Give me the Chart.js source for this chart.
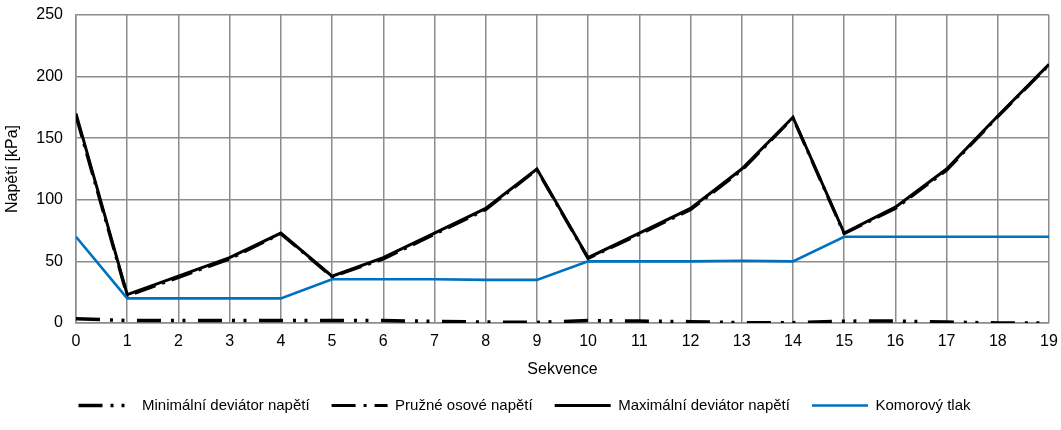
<!DOCTYPE html>
<html>
<head>
<meta charset="utf-8">
<script src="https://cdn.jsdelivr.net/npm/chart.js@4.4.1/dist/chart.umd.min.js"></script>
<style>
  html, body { margin: 0; padding: 0; background: #fff; }
  #wrap { width: 1061px; height: 430px; }
</style>
</head>
<body>
<div id="wrap"><canvas id="c" width="1061" height="430"></canvas></div>
<script>
// Sequence numbers (x axis)
const sekvence = [0,1,2,3,4,5,6,7,8,9,10,11,12,13,14,15,16,17,18,19];

// Stresses in kPa for each sequence
const minDeviator = [3.5,2,2,2,2,2,2,1.3,0.8,0.5,2,1.6,1.1,0.3,0.3,1.5,1.6,0.8,0,0];
const pruzneOsove = [168,22,37,52,72.5,37.5,52,72,92,124.5,52.5,72,92,124,166.5,72.5,93,124,167.5,209.5];
const maxDeviator = [170,23,38,53,73,38,53,73,93,125,53,73,93,125,167,73,94,125,168,210];
const komorovyTlak = [70,20,20,20,20,35.5,35.5,35.5,35,35,50,50,50,50.5,50,70,70,70,70,70];

// Y axis ticks
const yTicks = [0,50,100,150,200,250];

const FONT = "'Liberation Sans', Arial, sans-serif";
const toXY = arr => arr.map((v, i) => ({x: sekvence[i], y: v}));

// legend order (datasets are listed so the blue line is painted last)
const legendRank = {
  'Minimální deviátor napětí': 0,
  'Pružné osové napětí': 1,
  'Maximální deviátor napětí': 2,
  'Komorový tlak': 3
};
const legendDash = {
  'Minimální deviátor napětí': [24,8,3,8,3,10],
  'Pružné osové napětí': [24,8,3,8]
};

const datasets = [
  {
    label: 'Komorový tlak',
    data: toXY(komorovyTlak),
    borderColor: '#0070C0',
    backgroundColor: '#0070C0',
    borderWidth: 2.6
  },
  {
    label: 'Pružné osové napětí',
    data: toXY(pruzneOsove),
    borderColor: '#000',
    backgroundColor: '#000',
    borderWidth: 3.2,
    borderDash: [22,7,3,7]
  },
  {
    label: 'Maximální deviátor napětí',
    data: toXY(maxDeviator),
    borderColor: '#000',
    backgroundColor: '#000',
    borderWidth: 3
  },
  {
    label: 'Minimální deviátor napětí',
    data: toXY(minDeviator),
    borderColor: '#000',
    backgroundColor: '#000',
    borderWidth: 3.5,
    borderDash: [24,10,3,8.5,3,12.5]
  }
];

datasets.forEach(d => {
  d.pointRadius = 0;
  d.pointHoverRadius = 0;
  d.fill = false;
  d.tension = 0;
  d.pointStyle = 'line';
});

new Chart(document.getElementById('c'), {
  type: 'line',
  data: { datasets },
  options: {
    responsive: false,
    animation: false,
    devicePixelRatio: 1,
    layout: { padding: { top: 15, right: 12, bottom: 7, left: 0 } },
    scales: {
      x: {
        type: 'linear',
        min: 0,
        max: 19,
        border: { display: true, color: '#8c8c8c', width: 1.5 },
        grid: { color: '#8c8c8c', lineWidth: 1.5, drawTicks: false },
        ticks: {
          stepSize: 1,
          padding: 9,
          color: '#000',
          font: { family: FONT, size: 16 },
          maxRotation: 0,
          autoSkip: false
        },
        title: {
          display: true,
          text: 'Sekvence',
          color: '#000',
          font: { family: FONT, size: 16 },
          padding: { top: 0, bottom: -3 }
        },
        afterFit: s => {
          s.height = 53;
          s.paddingLeft = 0;
          s.paddingRight = 0;
        }
      },
      y: {
        min: 0,
        max: 250,
        border: { display: true, color: '#8c8c8c', width: 1.5 },
        grid: { color: '#8c8c8c', lineWidth: 1.5, drawTicks: false },
        afterBuildTicks: s => { s.ticks = yTicks.map(v => ({value: v})); },
        ticks: {
          padding: 13,
          color: '#000',
          font: { family: FONT, size: 16 }
        },
        title: {
          display: true,
          text: 'Napětí [kPa]',
          color: '#000',
          font: { family: FONT, size: 16 },
          padding: { top: 3, bottom: 0 }
        },
        afterFit: s => {
          s.width = 76;
          s.paddingTop = 0;
          s.paddingBottom = 0;
        }
      }
    },
    plugins: {
      tooltip: { enabled: false },
      legend: {
        position: 'bottom',
        labels: {
          usePointStyle: true,
          pointStyle: 'line',
          pointStyleWidth: 56,
          padding: 22,
          color: '#000',
          font: { family: FONT, size: 15 },
          sort: (a, b) => legendRank[a.text] - legendRank[b.text],
          generateLabels: chart => {
            const items = Chart.defaults.plugins.legend.labels.generateLabels(chart);
            items.forEach(it => {
              if (legendDash[it.text]) it.lineDash = legendDash[it.text];
              it.pointStyle = 'line';
            });
            return items;
          }
        }
      }
    }
  }
});
</script>
</body>
</html>
